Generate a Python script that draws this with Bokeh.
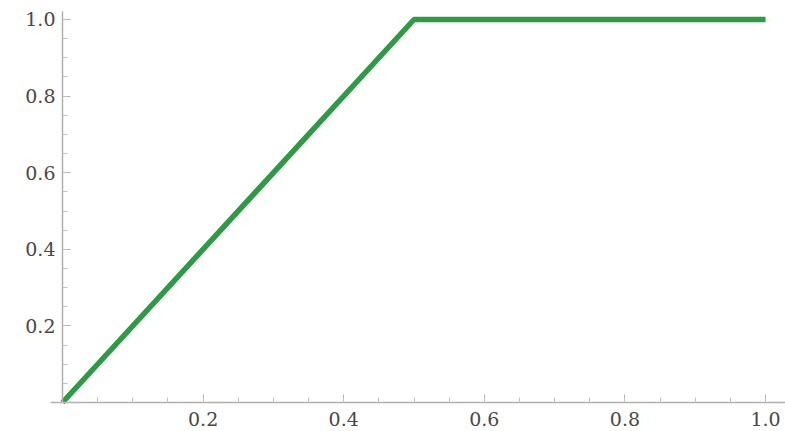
from bokeh.plotting import figure
from bokeh.models import Range1d, LinearAxis, FixedTicker, PrintfTickFormatter
from bokeh.embed import file_html
from bokeh.resources import INLINE

# data
xs = [0.0, 0.5, 1.0]
ys = [0.0, 1.0, 1.0]
major_ticks = [0.2, 0.4, 0.6, 0.8, 1.0]
minor_ticks = [round(i * 0.05, 2) for i in range(0, 21)]

p = figure(width=785, height=431, output_backend="svg", toolbar_location=None,
           x_axis_type=None, y_axis_type=None,
           x_range=Range1d(-0.0882, 1.0284), y_range=Range1d(-0.0757, 1.0496),
           min_border_left=0, min_border_right=0, min_border_top=0, min_border_bottom=0)
p.outline_line_color = None
p.grid.visible = False
p.background_fill_color = "white"

def style(ax):
    ax.ticker = FixedTicker(ticks=major_ticks, minor_ticks=minor_ticks)
    ax.formatter = PrintfTickFormatter(format="%.1f")
    ax.axis_line_color = "#b0b0b0"
    ax.axis_line_width = 1.5
    ax.major_tick_line_color = "#b0b0b0"
    ax.minor_tick_line_color = "#c0c0c0"
    ax.major_tick_in = 8
    ax.major_tick_out = 0
    ax.minor_tick_in = 5
    ax.minor_tick_out = 0
    ax.major_label_text_font = "DejaVu Serif"
    ax.major_label_text_font_size = "19px"
    ax.major_label_text_color = "#484848"

xa = LinearAxis(fixed_location=0, bounds=(-0.017, 1.0284))
ya = LinearAxis(fixed_location=0, bounds=(0, 1.02))
style(xa)
style(ya)
xa.major_label_standoff = 9
ya.major_label_standoff = 7
p.add_layout(xa, "below")
p.add_layout(ya, "left")

p.line(xs, ys, line_color="#2f9a45", line_width=5.5)

open("out.html", "w").write(file_html(p, INLINE))
